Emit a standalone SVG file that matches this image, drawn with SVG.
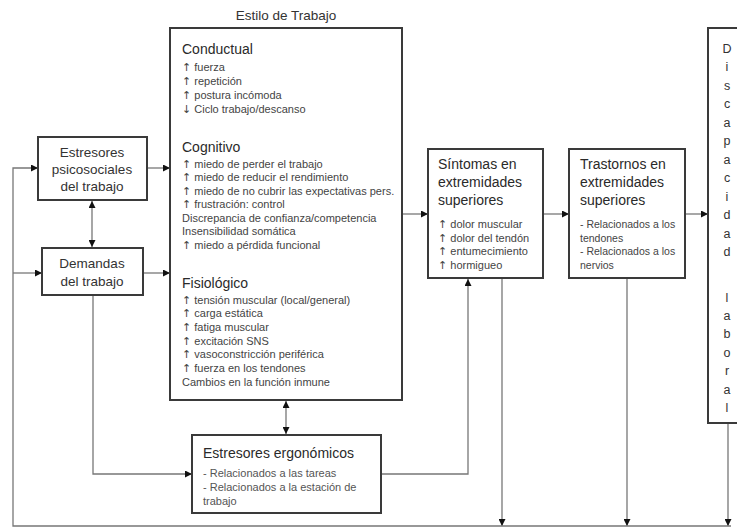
<svg xmlns="http://www.w3.org/2000/svg" width="737" height="528" viewBox="0 0 737 528">
<defs>
<marker id="ah" viewBox="0 0 10 10" refX="10" refY="5" markerWidth="7" markerHeight="7" markerUnits="userSpaceOnUse" orient="auto-start-reverse">
<path d="M0,0 L10,5 L0,10 z" fill="#111"/>
</marker>
<style>
.box{fill:#fff;stroke:#3a3a3a;stroke-width:2}
.con{fill:none;stroke:#777;stroke-width:1.3}
text{font-family:"Liberation Sans",Arial,sans-serif;fill:#333}
.t13{font-size:13.5px}
.h{font-size:14px;fill:#2a2a2a}
.s{font-size:11px;fill:#444}
.e{font-size:11px;fill:#555}
.v{font-size:12.5px;fill:#333}
.ar{font-family:"DejaVu Sans",sans-serif;font-size:11px}
</style>
</defs>
<rect width="737" height="528" fill="#fff"/>

<g id="connectors">
<path class="con" d="M728,423 V526" marker-end="url(#ah)"/>
<path class="con" d="M502,278 V526" marker-end="url(#ah)"/>
<path class="con" d="M627,278 V526" marker-end="url(#ah)"/>
<path class="con" d="M731,526 H13 V168 H38" marker-end="url(#ah)"/>
<path class="con" d="M13,273 H42" marker-end="url(#ah)"/>
<path class="con" d="M147,168 H170" marker-end="url(#ah)"/>
<path class="con" d="M143,273 H170" marker-end="url(#ah)"/>
<path class="con" d="M92,201 V247" marker-start="url(#ah)" marker-end="url(#ah)"/>
<path class="con" d="M93,295 V474 H192" marker-end="url(#ah)"/>
<path class="con" d="M286,401 V434" marker-start="url(#ah)" marker-end="url(#ah)"/>
<path class="con" d="M381,474 H468 V279" marker-end="url(#ah)"/>
<path class="con" d="M402,214 H428" marker-end="url(#ah)"/>
<path class="con" d="M543,214 H569" marker-end="url(#ah)"/>
<path class="con" d="M685,214 H708" marker-end="url(#ah)"/>
</g>

<g id="estilo">
<text x="286" y="20" text-anchor="middle" class="t13">Estilo de Trabajo</text>
<rect class="box" x="170" y="28" width="232" height="372"/>
<text x="182" y="54" class="h">Conductual</text>
<text class="s"><tspan x="182" y="71"><tspan class="ar">↑</tspan> fuerza</tspan><tspan x="182" y="85"><tspan class="ar">↑</tspan> repetición</tspan><tspan x="182" y="99"><tspan class="ar">↑</tspan> postura incómoda</tspan><tspan x="182" y="113"><tspan class="ar">↓</tspan> Ciclo trabajo/descanso</tspan></text>
<text x="182" y="152" class="h">Cognitivo</text>
<text class="s"><tspan x="182" y="168"><tspan class="ar">↑</tspan> miedo de perder el trabajo</tspan><tspan x="182" y="181"><tspan class="ar">↑</tspan> miedo de reducir el rendimiento</tspan><tspan x="182" y="195"><tspan class="ar">↑</tspan> miedo de no cubrir las expectativas pers.</tspan><tspan x="182" y="208"><tspan class="ar">↑</tspan> frustración: control</tspan><tspan x="182" y="222">Discrepancia de confianza/competencia</tspan><tspan x="182" y="235">Insensibilidad somática</tspan><tspan x="182" y="249"><tspan class="ar">↑</tspan> miedo a pérdida funcional</tspan></text>
<text x="182" y="288" class="h">Fisiológico</text>
<text class="s"><tspan x="182" y="304"><tspan class="ar">↑</tspan> tensión muscular (local/general)</tspan><tspan x="182" y="317"><tspan class="ar">↑</tspan> carga estática</tspan><tspan x="182" y="331"><tspan class="ar">↑</tspan> fatiga muscular</tspan><tspan x="182" y="345"><tspan class="ar">↑</tspan> excitación SNS</tspan><tspan x="182" y="358"><tspan class="ar">↑</tspan> vasoconstricción periférica</tspan><tspan x="182" y="372"><tspan class="ar">↑</tspan> fuerza  en los tendones</tspan><tspan x="182" y="386">Cambios en la función inmune</tspan></text>
</g>

<g id="psicosociales">
<rect class="box" x="38" y="137" width="109" height="63"/>
<text class="t13" text-anchor="middle"><tspan x="92" y="157">Estresores</tspan><tspan x="92" y="174">psicosociales</tspan><tspan x="92" y="191">del trabajo</tspan></text>
</g>

<g id="demandas">
<rect class="box" x="42" y="248" width="101" height="47"/>
<text class="t13" text-anchor="middle"><tspan x="92" y="268">Demandas</tspan><tspan x="92" y="286">del trabajo</tspan></text>
</g>

<g id="ergonomicos">
<rect class="box" x="192" y="435" width="189" height="78"/>
<text x="203" y="458" class="h">Estresores ergonómicos</text>
<text class="e"><tspan x="203" y="477">- Relacionados  a las tareas</tspan><tspan x="203" y="491">- Relacionados  a la estación de</tspan><tspan x="203" y="505">trabajo</tspan></text>
</g>

<g id="sintomas">
<rect class="box" x="428" y="149" width="115" height="129"/>
<text class="h"><tspan x="438" y="169">Síntomas en</tspan><tspan x="438" y="187">extremidades</tspan><tspan x="438" y="205">superiores</tspan></text>
<text class="s"><tspan x="438" y="228"><tspan class="ar">↑</tspan> dolor muscular</tspan><tspan x="438" y="242"><tspan class="ar">↑</tspan> dolor del tendón</tspan><tspan x="438" y="255"><tspan class="ar">↑</tspan> entumecimiento</tspan><tspan x="438" y="269"><tspan class="ar">↑</tspan> hormigueo</tspan></text>
</g>

<g id="trastornos">
<rect class="box" x="569" y="149" width="116" height="129"/>
<text class="h"><tspan x="580" y="169">Trastornos en</tspan><tspan x="580" y="187">extremidades</tspan><tspan x="580" y="205">superiores</tspan></text>
<text class="s" style="font-size:10.5px"><tspan x="580" y="228">- Relacionados a los</tspan><tspan x="580" y="242">tendones</tspan><tspan x="580" y="255">- Relacionados a los</tspan><tspan x="580" y="269">nervios</tspan></text>
</g>

<g id="discapacidad">
<rect class="box" x="708" y="28" width="40" height="395"/>
<text class="v" text-anchor="middle"><tspan x="727" y="53">D</tspan><tspan x="727" y="71">i</tspan><tspan x="727" y="90">s</tspan><tspan x="727" y="108">c</tspan><tspan x="727" y="127">a</tspan><tspan x="727" y="145">p</tspan><tspan x="727" y="164">a</tspan><tspan x="727" y="182">c</tspan><tspan x="727" y="201">i</tspan><tspan x="727" y="219">d</tspan><tspan x="727" y="238">a</tspan><tspan x="727" y="256">d</tspan><tspan x="727" y="302">l</tspan><tspan x="727" y="320">a</tspan><tspan x="727" y="338">b</tspan><tspan x="727" y="357">o</tspan><tspan x="727" y="375">r</tspan><tspan x="727" y="394">a</tspan><tspan x="727" y="412">l</tspan></text>
</g>
</svg>
